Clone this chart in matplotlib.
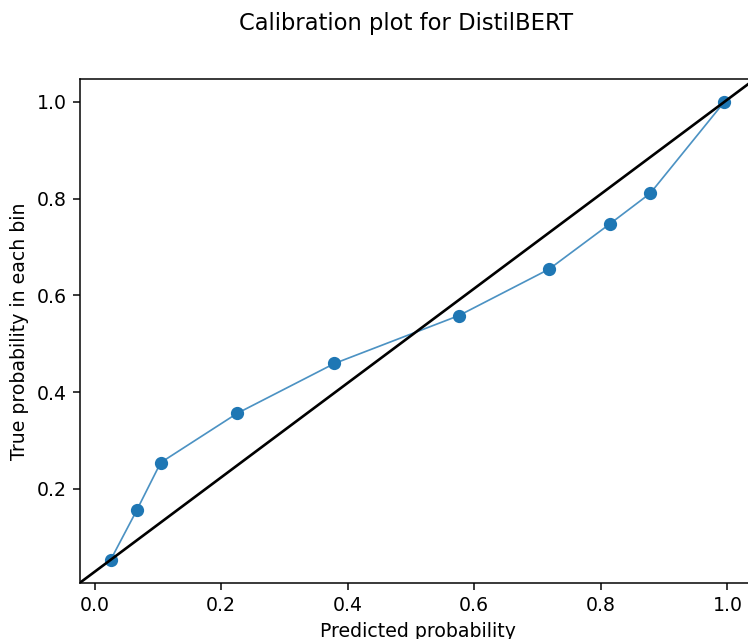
import matplotlib
matplotlib.use("Agg")
import matplotlib.pyplot as plt

# Calibration curve data (mean predicted prob, fraction of positives)
pred_prob = [0.0255, 0.0665, 0.1045, 0.2255, 0.379, 0.5755, 0.718, 0.8145, 0.878, 0.995]
true_prob = [0.053, 0.155, 0.254, 0.356, 0.459, 0.558, 0.654, 0.748, 0.811, 1.0]
xticks = [0.0, 0.2, 0.4, 0.6, 0.8, 1.0]
yticks = [0.2, 0.4, 0.6, 0.8, 1.0]

DPI = 136
fig = plt.figure(figsize=(748 / DPI, 639 / DPI), dpi=DPI)
ax = fig.add_axes([80 / 748, 1 - 582.7 / 639, (755 - 80) / 748, (582.7 - 79) / 639])

ax.plot(pred_prob, true_prob, color="#1f77b4", linewidth=0.9, alpha=0.8)
ax.plot(pred_prob, true_prob, "o", color="#1f77b4", markersize=6)
ax.plot([0, 1], [0, 1], color="black", linewidth=1.4, transform=ax.transAxes)

ax.set_xticks(xticks)
ax.set_yticks(yticks)
ax.set_xlabel("Predicted probability")
ax.set_ylabel("True probability in each bin")
fig.suptitle("Calibration plot for DistilBERT", x=0.5425, y=0.982, fontsize=12)

fig.savefig("out.png", dpi=DPI)
